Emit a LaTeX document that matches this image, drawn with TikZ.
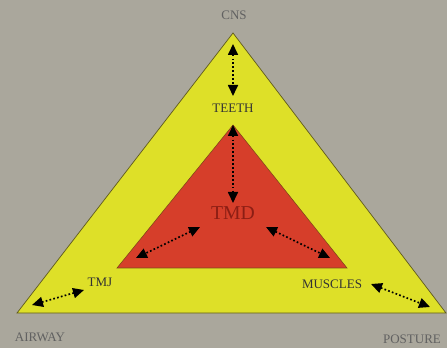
\documentclass[tikz,border=0pt]{standalone}
\usepackage{xcolor}
\usepackage{fontspec}
\setmainfont{Liberation Serif}
\usepackage{tikz}
\usetikzlibrary{arrows.meta,positioning}

\definecolor{bgGray}{RGB}{170,167,156}
\definecolor{outerYellow}{RGB}{222,224,40}
\definecolor{innerRed}{RGB}{214,62,42}
\definecolor{edgeOlive}{RGB}{95,90,30}
\definecolor{tmdRed}{RGB}{140,30,20}

\begin{document}
\begin{tikzpicture}[
  x=0.5mm, y=-0.5mm,
  lbl/.style={inner sep=1pt, font=\fontsize{18.5}{20}\selectfont, text=black!80},
  outlbl/.style={lbl, text=black!62},
  dotarr/.style={{Triangle[length=5.5mm,width=5mm]}-{Triangle[length=5.5mm,width=5mm]}, line width=2.4pt, dash pattern=on 2.4pt off 3.2pt, black}
]
\fill[bgGray] (0,0) rectangle (447,348);
\useasboundingbox (0,0) rectangle (447,348);
% triangles
\filldraw[fill=outerYellow, draw=edgeOlive, line width=1pt] (233,33) -- (17,313) -- (446,313) -- cycle;
\filldraw[fill=innerRed, draw=edgeOlive!80!red, line width=0.8pt] (233,125) -- (117,268) -- (347,268) -- cycle;
% labels
\node[outlbl] (cns) at (234,15) {CNS};
\node[lbl] (teeth) at (233,108) {TEETH};
\node[lbl, font=\fontsize{28}{30}\selectfont, text=tmdRed] (tmd) at (233,213) {TMD};
\node[lbl] (tmj) at (100,282) {TMJ};
\node[lbl] (muscles) at (332,284) {MUSCLES};
\node[outlbl] (airway) at (40,337) {AIRWAY};
\node[outlbl] (posture) at (412,339) {POSTURE};
% arrow ends
\coordinate (cnsEnd) at (233,44);
\coordinate (teethUp) at (233,96);
\coordinate (teethDown) at (233,125);
\coordinate (tmdUp) at (233,203);
\coordinate (tmdLeft) at (200,227);
\coordinate (tmdRight) at (266,227);
\coordinate (tmjIn) at (136,258);
\coordinate (musclesIn) at (330,258);
\coordinate (tmjOut) at (84,290);
\coordinate (airwayEnd) at (32,305);
\coordinate (musclesOut) at (371,284);
\coordinate (postureEnd) at (430,307);
\draw[dotarr] (cnsEnd) -- (teethUp);
\draw[dotarr] (teethDown) -- (tmdUp);
\draw[dotarr] (tmdLeft) -- (tmjIn);
\draw[dotarr] (tmdRight) -- (musclesIn);
\draw[dotarr] (tmjOut) -- (airwayEnd);
\draw[dotarr] (musclesOut) -- (postureEnd);
\end{tikzpicture}
\end{document}
